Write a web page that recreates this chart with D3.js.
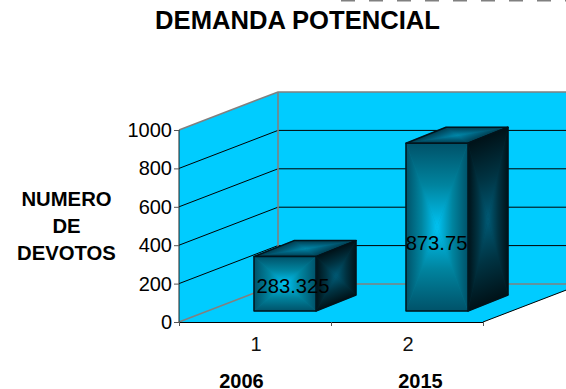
<!DOCTYPE html>
<html><head><meta charset="utf-8">
<script src="https://cdnjs.cloudflare.com/ajax/libs/d3/7.8.5/d3.min.js"></script>
<style>html,body{margin:0;padding:0;background:#fff;overflow:hidden}svg{display:block}text{font-family:"Liberation Sans",Arial,sans-serif}</style>
</head><body><svg id="c" width="566" height="389"></svg>
<script>
const categories = ["1", "2"];
const years = ["2006", "2015"];
const values = [283.325, 873.75];
const valueLabels = ["283.325", "873.75"];
const yTicks = [0, 200, 400, 600, 800, 1000];
const titleText = "DEMANDA POTENCIAL";
const yTitleLines = ["NUMERO", "DE", "DEVOTOS"];

const svg = d3.select("#c"), defs = svg.append("defs");
const plotL = 179, plotR = 483, base = 322, plotT = 130;
const DX = 99, DY = -38;          // plot depth
const barDX = 40, barDY = -16;    // bar depth
const inX = 30, inY = -11;        // front of bar inside floor
const barW = 62;

const y = d3.scaleLinear().domain([0, 1000]).range([base, plotT]);
const xBand = d3.scaleBand().domain(categories).range([plotL, plotR]);
const xEdge = d3.scaleLinear().domain([0, categories.length]).range([plotL, plotR]);
const poly = pts => pts.map(p => p.join(",")).join(" ");

// dashes clipped at top of page
svg.append("line").attr("x1", 341).attr("x2", 566).attr("y1", 0.5).attr("y2", 0.5)
  .attr("stroke", "#808080").attr("stroke-width", 2).attr("stroke-dasharray", "14 14");

// walls and floor
const wallCol = "#00ccff", gray = "#808080";
svg.append("polygon").attr("points", poly([[plotL, y(0)], [plotL, y(1000)], [plotL+DX, y(1000)+DY], [plotL+DX, y(0)+DY]])).attr("fill", wallCol);
svg.append("polygon").attr("points", poly([[plotL+DX, y(0)+DY], [plotL+DX, y(1000)+DY], [plotR+DX, y(1000)+DY], [plotR+DX, y(0)+DY]])).attr("fill", wallCol);
svg.append("polygon").attr("points", poly([[plotL, y(0)], [plotR, y(0)], [plotR+DX, y(0)+DY], [plotL+DX, y(0)+DY]])).attr("fill", wallCol);

// gridlines
yTicks.filter(d => d > 0 && d < 1000).forEach(d => {
  svg.append("polyline").attr("fill", "none").attr("stroke", "#000").attr("stroke-width", 1)
    .attr("points", poly([[plotL, y(d)], [plotL+DX, y(d)+DY], [plotR+DX, y(d)+DY]]));
});
// gray frame lines
svg.append("polyline").attr("fill", "none").attr("stroke", gray).attr("stroke-width", 1.6)
  .attr("points", poly([[plotL, y(1000)], [plotL+DX, y(1000)+DY], [plotR+DX, y(1000)+DY]]));
svg.append("line").attr("stroke", gray).attr("stroke-width", 1.6)
  .attr("x1", plotL+DX).attr("x2", plotL+DX).attr("y1", y(1000)+DY).attr("y2", y(0)+DY);
svg.append("polyline").attr("fill", "none").attr("stroke", gray).attr("stroke-width", 1.6)
  .attr("points", poly([[plotL, y(0)], [plotL+DX, y(0)+DY], [plotR+DX, y(0)+DY]]));
svg.append("line").attr("stroke", "#000").attr("stroke-width", 1)
  .attr("x1", plotR).attr("y1", y(0)).attr("x2", plotR+DX).attr("y2", y(0)+DY);
svg.append("line").attr("stroke", "#222").attr("stroke-width", 1)
  .attr("x1", plotL).attr("x2", plotL).attr("y1", y(1000)).attr("y2", y(0));

// path-gradient-like face
let gid = 0;
function face(pts, edgeCol, midCol, centerCol) {
  const c = [d3.mean(pts, p => p[0]), d3.mean(pts, p => p[1])];
  const g = svg.append("g");
  g.append("polygon").attr("points", poly(pts)).attr("fill", midCol);
  pts.forEach((a, i) => {
    const b = pts[(i + 1) % pts.length];
    const ex = b[0]-a[0], ey = b[1]-a[1], L = Math.hypot(ex, ey);
    const nx = -ey/L, ny = ex/L;
    const d = (c[0]-a[0])*nx + (c[1]-a[1])*ny;
    const id = "g" + (gid++);
    const lg = defs.append("linearGradient").attr("id", id).attr("gradientUnits", "userSpaceOnUse")
      .attr("x1", c[0]-nx*d).attr("y1", c[1]-ny*d).attr("x2", c[0]).attr("y2", c[1]);
    lg.append("stop").attr("offset", 0).attr("stop-color", edgeCol);
    lg.append("stop").attr("offset", 0.5).attr("stop-color", midCol);
    lg.append("stop").attr("offset", 1).attr("stop-color", centerCol);
    g.append("polygon").attr("points", poly([a, b, c])).attr("fill", `url(#${id})`)
      .attr("stroke", `url(#${id})`).attr("stroke-width", 0.4);
  });
  g.append("polygon").attr("points", poly(pts)).attr("fill", "none")
    .attr("stroke", "#00141c").attr("stroke-width", 1.5).attr("stroke-linejoin", "round");
}

// bars
categories.forEach((cat, i) => {
  const x0 = xBand(cat) + (xBand.bandwidth() - barW) / 2 + inX;
  const x1 = x0 + barW;
  const yb = y(0) + inY;
  const yt = yb - (y(0) - y(values[i]));
  face([[x0, yt], [x1, yt], [x1+barDX, yt+barDY], [x0+barDX, yt+barDY]], "#003c4e", "#00607c", "#0088aa");
  face([[x1, yt], [x1+barDX, yt+barDY], [x1+barDX, yb+barDY], [x1, yb]], "#001218", "#003342", "#005a75");
  face([[x0, yt], [x1, yt], [x1, yb], [x0, yb]], "#005269", "#00849f", "#00c4f4");
});

// axes
const yAxis = svg.append("g").attr("transform", `translate(${plotL},0)`)
  .call(d3.axisLeft(y).tickValues(yTicks).tickSize(5).tickPadding(2).tickFormat(d3.format("d")));
yAxis.select(".domain").remove();
yAxis.selectAll("line").attr("stroke", "#555");
yAxis.selectAll("text").attr("font-size", 20).attr("fill", "#000").attr("font-family", "Liberation Sans");

const xAxis = svg.append("g").attr("transform", `translate(0,${base})`)
  .call(d3.axisBottom(xEdge).tickValues(d3.range(categories.length + 1)).tickSize(4).tickFormat(""));
xAxis.select(".domain").attr("stroke", "#000");
xAxis.selectAll("line").attr("stroke", "#555");

svg.selectAll(".cat").data(categories).enter().append("text").attr("class", "cat")
  .attr("x", d => xBand(d) + xBand.bandwidth()/2 + 1).attr("y", 351)
  .attr("text-anchor", "middle").attr("font-size", 20).attr("fill", "#111").text(d => d);
svg.selectAll(".yr").data(years).enter().append("text").attr("class", "yr")
  .attr("x", (d, i) => [241.5, 420.5][i]).attr("y", 387.5)
  .attr("text-anchor", "middle").attr("font-size", 20).attr("font-weight", "bold").text(d => d);

// value labels
const labelPos = [[293, 293], [436.5, 250]];
svg.selectAll(".val").data(valueLabels).enter().append("text").attr("class", "val")
  .attr("x", (d, i) => labelPos[i][0]).attr("y", (d, i) => labelPos[i][1])
  .attr("text-anchor", "middle").attr("font-size", 20.2).attr("fill", "#000").text(d => d);

// titles
svg.append("text").attr("x", 297.5).attr("y", 29).attr("text-anchor", "middle")
  .attr("font-size", 25.6).attr("font-weight", "bold").text(titleText);
svg.selectAll(".yt").data(yTitleLines).enter().append("text").attr("class", "yt")
  .attr("x", 66.5).attr("y", (d, i) => 206 + i * 27).attr("text-anchor", "middle")
  .attr("font-size", 20.3).attr("font-weight", "bold").text(d => d);
</script></body></html>
